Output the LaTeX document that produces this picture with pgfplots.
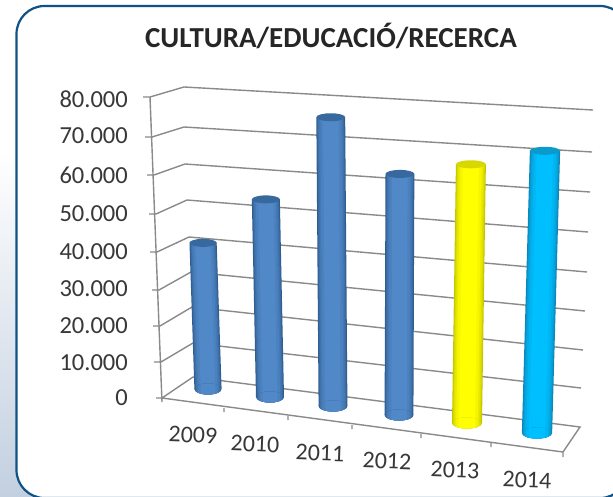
\documentclass[border=0pt]{standalone}
\usepackage{pgfplots}
\usepackage{pgfplotstable}
\pgfplotsset{compat=1.18}
\usepackage{fontspec}
\setmainfont{Carlito}

\definecolor{frameblue}{HTML}{0F5288}
\definecolor{slide}{HTML}{C3D0E0}
\definecolor{gridgray}{HTML}{8A8A8A}
\definecolor{txt}{HTML}{383838}
\definecolor{blueedge}{HTML}{2F5C8F}
\definecolor{bluemid}{HTML}{5088C8}
\definecolor{bluecap}{HTML}{38699E}
\definecolor{yellowedge}{HTML}{C4C400}
\definecolor{yellowmid}{HTML}{FFFF00}
\definecolor{yellowcap}{HTML}{D8D800}
\definecolor{cyanedge}{HTML}{0C86B8}
\definecolor{cyanmid}{HTML}{00BFFF}
\definecolor{cyancap}{HTML}{0A9BCB}

\tikzset{
  ylab/.style={anchor=east, font=\fontsize{24.5}{24.5}\selectfont, text=txt, inner sep=0pt},
  xlab/.style={font=\fontsize{24}{24}\selectfont, text=txt, inner sep=0pt, rotate=-2},
}
% filled disc without an outline, scaled to an ellipse through mark options
\pgfdeclareplotmark{disc}{\pgfpathcircle{\pgfpointorigin}{\pgfplotmarksize}\pgfusepathqfill}
% bottom of a cylinder cut down to one stripe: half width of the stripe is the mark size
\pgfdeclareplotmark{base}{%
  \pgfpathrectangle{\pgfpoint{-\pgfplotmarksize}{-7pt}}{\pgfpoint{2\pgfplotmarksize}{14pt}}%
  \pgfusepathqclip
  \pgfpathellipse{\pgfpointorigin}{\pgfpoint{14pt}{0pt}}{\pgfpoint{0pt}{5.5pt}}%
  \pgfusepathqfill}

% bars: each row is one end of a cylinder, picture position of the base, px per unit, lean per unit
\pgfplotstableread{
bar v bx by sc t
0 0 208 389 0.00370 -0.000125
0 39500 208 389 0.00370 -0.000125
1 0 270 397 0.00380 -0.000080
1 52000 270 397 0.00380 -0.000080
2 0 333 406 0.00385 -0.000030
2 75000 333 406 0.00385 -0.000030
3 0 399 415 0.00392 0.000015
3 61500 399 415 0.00392 0.000015
4 0 467 423 0.00398 0.000060
4 65000 467 423 0.00398 0.000060
5 0 537 433 0.00409 0.000116
5 69000 537 433 0.00409 0.000116
}\bars

\newcommand{\cyl}[5]{% bar, edge, mid, cap, width factor
  \foreach \w/\m in {28/0,26.5/25,25/45,23/65,20/85,15/100}{
    \pgfmathsetmacro\hw{\w/2}
    \edef\tmp{\noexpand\addplot[no markers, line cap=butt, line width=\w*#5 pt, color=#3!\m!#2,
      restrict expr to domain={\noexpand\thisrow{bar}}{#1:#1}]
      table[x expr={\noexpand\thisrow{bx}+\noexpand\thisrow{t}*\noexpand\thisrow{v}},
            y expr={\noexpand\thisrow{by}-\noexpand\thisrow{sc}*\noexpand\thisrow{v}}] {\noexpand\bars};}
    \tmp
    \edef\tmp{\noexpand\addplot[only marks, mark=base, mark size=\hw pt, mark options={fill=#3!\m!#2, xscale=#5},
      restrict expr to domain={\noexpand\thisrow{bar}+100*(\noexpand\thisrow{v}>0)}{#1:#1}]
      table[x=bx, y=by] {\noexpand\bars};}
    \tmp
  }
  \addplot[only marks, mark=disc, mark size=1pt, mark options={fill=#4, xscale=14*#5, yscale=4},
    restrict expr to domain={\thisrow{bar}+100*(\thisrow{v}<1)}{#1:#1}]
    table[x expr={\thisrow{bx}+\thisrow{t}*\thisrow{v}},
          y expr={\thisrow{by}-\thisrow{sc}*\thisrow{v}}] {\bars};
}

\begin{document}
\begin{tikzpicture}
\useasboundingbox (0,0) rectangle (613pt,496pt);
\clip (0,0) rectangle (613pt,496pt);
\begin{axis}[
  scale only axis, width=613pt, height=496pt,
  xmin=0, xmax=613, ymin=0, ymax=496, y dir=reverse,
  hide axis, clip=false, unbounded coords=jump,
]
% slide background and rounded panel
\fill[white] (axis cs:0,0) rectangle (axis cs:613,150);
\shade[top color=white, bottom color=slide] (axis cs:0,150) rectangle (axis cs:613,496);
\draw[frameblue, line width=2.2pt, fill=white, rounded corners=28pt] (axis cs:16.5,6) rectangle (axis cs:628,498);

% walls and floor
\addplot[gridgray, line width=1.4pt, no markers] coordinates {
 (143,97)(150,97)(184,87)(593,110) (nan,nan)
 (145,137)(152,137)(184,127)(592,152) (nan,nan)
 (147,175)(154,175)(185,164)(590,192) (nan,nan)
 (149,214)(156,214)(187,200)(588,232) (nan,nan)
 (150,252)(157,252)(189,237)(587,272) (nan,nan)
 (152,290)(159,290)(191,272)(585,311) (nan,nan)
 (153,326)(160,326)(192,307)(583,350) (nan,nan)
 (154,362)(161,362)(193,343)(581,388) (nan,nan)
 (156,398)(162,398)(193,377)(580,427)(563,452)(162,398) (nan,nan)
 (150,97)(162,402) (nan,nan)
 (224,408)(224,412) (nan,nan)
 (288,416)(288,420) (nan,nan)
 (352,425)(352,429) (nan,nan)
 (421,434)(421,438) (nan,nan)
 (491,443)(491,447) (nan,nan)
 (563,452)(563,457)
};

\cyl{0}{blueedge}{bluemid}{bluecap}{0.97}
\cyl{1}{blueedge}{bluemid}{bluecap}{1.0}
\cyl{2}{blueedge}{bluemid}{bluecap}{1.03}
\cyl{3}{blueedge}{bluemid}{bluecap}{1.03}
\cyl{4}{yellowedge}{yellowmid}{yellowcap}{1.07}
\cyl{5}{cyanedge}{cyanmid}{cyancap}{1.08}

% labels
\node[font=\bfseries\fontsize{29}{29}\selectfont, text=black!85] at (axis cs:331,36) {CULTURA/EDUCACIÓ/RECERCA};
\node[ylab] at (axis cs:128,99) {80.000};
\node[ylab] at (axis cs:128,136) {70.000};
\node[ylab] at (axis cs:128,175) {60.000};
\node[ylab] at (axis cs:128,214) {50.000};
\node[ylab] at (axis cs:128,252) {40.000};
\node[ylab] at (axis cs:128,289) {30.000};
\node[ylab] at (axis cs:128,326) {20.000};
\node[ylab] at (axis cs:128,363) {10.000};
\node[ylab] at (axis cs:128,398) {0};
\node[xlab] at (axis cs:193,435) {2009};
\node[xlab] at (axis cs:255,444) {2010};
\node[xlab] at (axis cs:320,453) {2011};
\node[xlab] at (axis cs:387,461) {2012};
\node[xlab] at (axis cs:455,470) {2013};
\node[xlab] at (axis cs:527,480) {2014};
\end{axis}
\end{tikzpicture}
\end{document}
